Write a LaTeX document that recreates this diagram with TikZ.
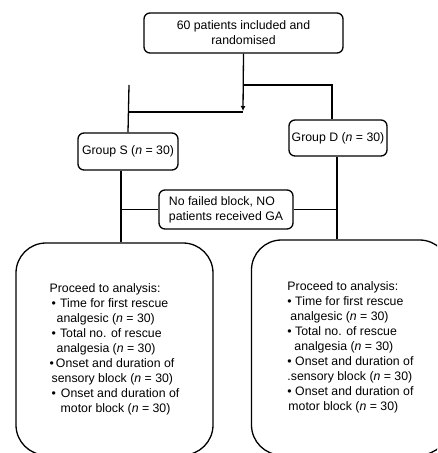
\documentclass[tikz,border=0pt]{standalone}
\usepackage{fontspec}
\setmainfont{Liberation Sans}
\usetikzlibrary{arrows.meta}
\tikzset{
  box/.style={draw, line width=1.3pt, rounded corners=6pt, align=center, inner sep=2pt},
  bigbox/.style={draw, line width=1.3pt, rounded corners=30pt, align=left},
  link/.style={line width=1.3pt},
  arrowlink/.style={line width=1.3pt, -{Latex[length=5pt,width=5pt]}}
}
\begin{document}
\begin{tikzpicture}[x=1pt, y=-1pt, font=\fontsize{12.3}{15}\selectfont]
    \useasboundingbox (0, 0) rectangle (437, 453);
    \clip (0, 0) rectangle (437, 453);
    \node[box, minimum width=199, minimum height=40] (rand) at (243.5, 33) {60 patients included and\\randomised};
    \node[box, minimum width=100, minimum height=37] (grpS) at (128, 151.5) {Group S (\textit{n} = 30)};
    \node[box, minimum width=98, minimum height=36] (grpD) at (338, 138) {Group D (\textit{n} = 30)};
    \node[box, align=left, minimum width=134, minimum height=39] (excl) at (226, 209.5) {No failed block, NO\\patients received GA};
    \node[bigbox, minimum width=197, minimum height=212] (anaS) at (114.5, 349) {Proceed to analysis:\\
      \hspace{2pt}•\hspace{4pt}Time for first rescue\\
      \hspace{7pt}analgesic (\textit{n} = 30)\\
      \hspace{2pt}•\hspace{4pt}Total no. of rescue\\
      \hspace{7pt}analgesia (\textit{n} = 30)\\
      •\hspace{2pt}Onset and duration of\\
      \hspace{2pt}sensory block (\textit{n} = 30)\\
      \hspace{2pt}•\hspace{5pt}Onset and duration of\\
      \hspace{11pt}motor block (\textit{n} = 30)};
    \node[bigbox, minimum width=198, minimum height=215] (anaD) at (350.5, 347.5) {Proceed to analysis:\\
      • Time for first rescue\\
      \hspace{3pt}analgesic (\textit{n} = 30)\\
      • Total no. of rescue\\
      \hspace{7pt}analgesia (\textit{n} = 30)\\
      • Onset and duration of\\
      .sensory block (\textit{n} = 30)\\
      • Onset and duration of\\
      \hspace{1pt}motor block (\textit{n} = 30)};
    \coordinate (tip) at (243, 111);
    \coordinate (splitR) at (243, 85);
    \coordinate (turnR) at (332, 85);
    \coordinate (topS) at (129, 85);
    \coordinate (joinS) at (129, 112);
    \coordinate (legS) at (121, 0);
    \coordinate (legD) at (337, 0);
    \draw[arrowlink] (rand.south) -- (tip);
    \draw[link] (splitR) -- (turnR) -- (turnR |- grpD.north);
    \draw[link] (topS) -- (grpS.north);
    \draw[link] (joinS) -- (tip |- joinS);
    \draw[link] (legS |- grpS.south) -- (legS |- anaS.north);
    \draw[link] (excl.west) -- (excl.west -| legS);
    \draw[link] (legD |- grpD.south) -- (legD |- anaD.north);
    \draw[link] (excl.east) -- (excl.east -| legD);
  \end{tikzpicture}
\end{document}
